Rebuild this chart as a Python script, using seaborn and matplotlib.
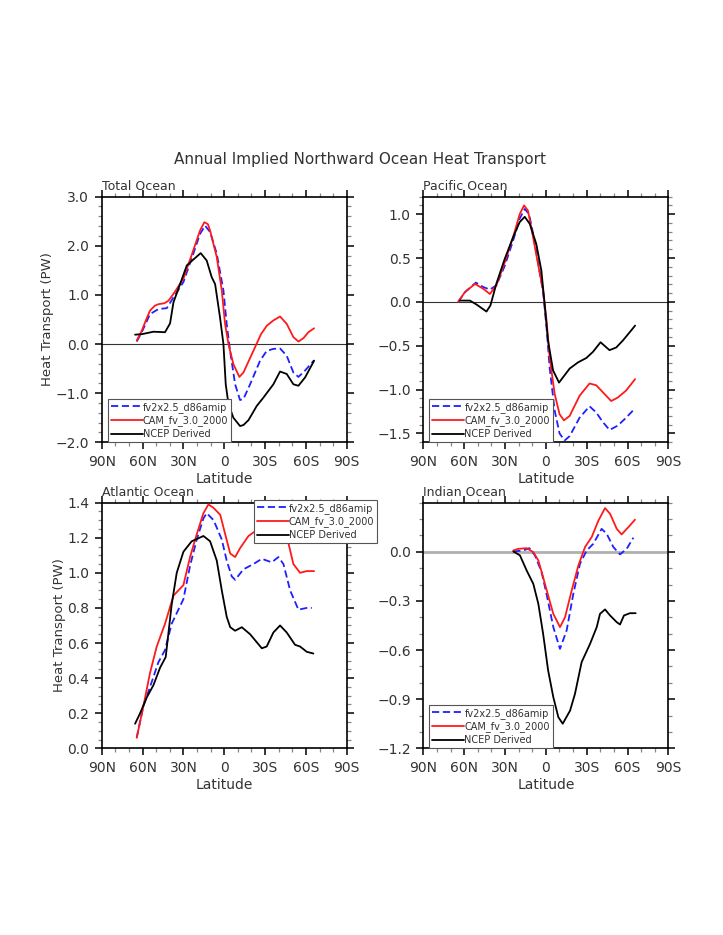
import numpy as np
import pandas as pd
import matplotlib
matplotlib.use("Agg")
import matplotlib.pyplot as plt
from matplotlib.lines import Line2D
from matplotlib.ticker import FixedLocator, MultipleLocator
import seaborn as sns

# ===================================================
# DATA
# ===================================================
CASES = ["fv2x2.5_d86amip", "CAM_fv_3.0_2000", "NCEP Derived"]

# -----> Total Ocean
TOT_LAT_FV = [64.3, 60.6, 54.5, 48.4, 42.2, 37.3, 30.0, 22.7, 17.8, 14.1, 10.4, 5.5, 0.6, -1.8, -4.3,
              -8.0, -11.6, -14.1, -19.0, -26.3, -31.2, -36.0, -41.0, -45.9, -50.8, -54.5, -59.4, -66.0]
TOT_FV = [0.05, 0.24, 0.61, 0.71, 0.73, 0.95, 1.26, 1.84, 2.24, 2.41, 2.28, 1.84, 1.09, 0.41, -0.14,
          -0.82, -1.14, -1.12, -0.82, -0.34, -0.14, -0.10, -0.09, -0.24, -0.58, -0.67, -0.54, -0.33]
TOT_LAT_CAM = [64.3, 60.6, 57.0, 54.5, 51.0, 48.4, 44.0, 41.0, 37.3, 30.0, 22.7, 17.8, 14.6, 12.0, 10.4,
               5.5, 1.8, -0.6, -3.1, -6.7, -11.1, -14.1, -21.4, -27.0, -31.2, -36.1, -41.0, -45.9,
               -50.8, -54.5, -58.2, -61.8, -66.0]
TOT_CAM = [0.07, 0.27, 0.52, 0.68, 0.78, 0.81, 0.83, 0.88, 1.02, 1.33, 1.91, 2.31, 2.48, 2.44, 2.31,
           1.77, 1.09, 0.41, 0.0, -0.41, -0.67, -0.58, -0.14, 0.20, 0.37, 0.48, 0.56, 0.41,
           0.14, 0.05, 0.12, 0.24, 0.32]
TOT_LAT_NCEP = [65.5, 60.6, 52.0, 43.5, 39.8, 37.3, 34.9, 27.5, 20.2, 17.3, 12.9, 9.2, 6.7, 3.1, 0.6,
                -1.1, -3.1, -6.7, -11.6, -14.1, -17.8, -23.9, -28.8, -36.1, -41.0, -45.9, -50.8,
                -54.5, -59.4, -66.0]
TOT_NCEP = [0.19, 0.20, 0.25, 0.24, 0.42, 0.85, 1.03, 1.60, 1.78, 1.85, 1.70, 1.36, 1.22, 0.54, 0.0,
            -0.82, -1.22, -1.50, -1.67, -1.65, -1.55, -1.26, -1.09, -0.82, -0.56, -0.61, -0.82,
            -0.85, -0.68, -0.34]

# -----> Pacific Ocean
PAC_LAT_FV = [64.4, 59.5, 51.4, 46.0, 41.1, 36.3, 30.2, 24.0, 19.2, 15.5, 12.3, 9.4, 5.7, 2.0, -0.5,
              -2.8, -6.5, -10.1, -13.8, -17.5, -24.8, -32.1, -37.0, -41.9, -46.8, -52.9, -59.0, -63.9]
PAC_FV = [0.0, 0.11, 0.22, 0.17, 0.14, 0.19, 0.41, 0.70, 0.95, 1.06, 1.00, 0.78, 0.45, 0.11, -0.29,
          -0.75, -1.24, -1.50, -1.58, -1.53, -1.32, -1.19, -1.26, -1.37, -1.46, -1.41, -1.32, -1.24]
PAC_LAT_CAM = [64.4, 59.5, 52.1, 46.0, 41.1, 36.3, 30.2, 24.0, 19.2, 16.0, 13.1, 9.4, 5.7, 2.0, -0.5,
               -2.8, -6.5, -10.1, -13.3, -17.5, -24.8, -32.1, -37.0, -41.9, -48.0, -52.9, -59.0, -65.6]
PAC_CAM = [0.0, 0.11, 0.205, 0.15, 0.09, 0.19, 0.45, 0.74, 1.0, 1.10, 1.04, 0.74, 0.43, 0.13, -0.21,
           -0.63, -1.05, -1.28, -1.35, -1.30, -1.07, -0.93, -0.95, -1.03, -1.13, -1.09, -1.01, -0.88]
PAC_LAT_NCEP = [63.1, 55.8, 50.9, 43.6, 40.7, 36.3, 30.2, 24.0, 19.2, 15.5, 11.8, 7.0, 3.3, 0.9, -1.6,
                -5.3, -9.7, -12.6, -17.5, -23.6, -29.7, -34.6, -40.2, -43.1, -46.8, -51.7, -56.6,
                -61.4, -65.6]
PAC_NCEP = [0.015, 0.015, -0.03, -0.11, -0.04, 0.21, 0.49, 0.74, 0.91, 0.97, 0.89, 0.66, 0.36, -0.02,
            -0.44, -0.78, -0.92, -0.86, -0.76, -0.69, -0.64, -0.57, -0.46, -0.50, -0.55, -0.52, -0.44,
            -0.35, -0.27]

# -----> Atlantic Ocean
ATL_LAT_FV = [64.3, 59.4, 54.5, 48.4, 43.5, 38.6, 30.0, 25.1, 20.2, 15.3, 12.9, 7.8, 1.8, -1.8, -5.5,
              -8.0, -14.1, -21.4, -27.6, -34.9, -39.8, -43.5, -48.4, -54.5, -60.6, -64.3]
ATL_FV = [0.06, 0.24, 0.35, 0.49, 0.56, 0.71, 0.85, 1.04, 1.19, 1.31, 1.34, 1.30, 1.19, 1.07, 0.98,
          0.96, 1.02, 1.05, 1.08, 1.06, 1.09, 1.05, 0.90, 0.79, 0.80, 0.80]
ATL_LAT_CAM = [64.3, 59.4, 54.5, 49.6, 43.5, 37.3, 30.0, 25.1, 20.2, 15.3, 11.6, 7.8, 2.9, -0.7, -4.4,
               -8.0, -11.6, -17.8, -25.1, -31.2, -34.9, -39.1, -42.2, -45.9, -50.8, -55.7, -60.6, -66.0]
ATL_CAM = [0.06, 0.24, 0.43, 0.58, 0.71, 0.87, 0.93, 1.09, 1.22, 1.34, 1.39, 1.37, 1.33, 1.22, 1.11,
           1.09, 1.14, 1.21, 1.25, 1.26, 1.26, 1.31, 1.31, 1.21, 1.05, 1.00, 1.01, 1.01]
ATL_LAT_NCEP = [65.5, 61.8, 56.9, 52.0, 47.1, 43.0, 38.6, 34.9, 30.0, 23.9, 15.3, 10.4, 5.5, 1.8, -1.8,
                -4.4, -8.0, -12.9, -19.0, -27.6, -31.2, -36.1, -41.0, -45.9, -52.0, -55.7, -60.6, -65.5]
ATL_NCEP = [0.14, 0.20, 0.29, 0.36, 0.46, 0.52, 0.82, 1.00, 1.12, 1.18, 1.21, 1.18, 1.07, 0.90, 0.75,
            0.69, 0.67, 0.69, 0.65, 0.57, 0.58, 0.66, 0.70, 0.66, 0.59, 0.58, 0.55, 0.54]

# -----> Indian Ocean
IND_LAT_FV = [23.9, 16.5, 12.1, 8.0, 3.1, -0.5, -5.5, -10.4, -15.3, -20.2, -25.1, -30.0, -34.9, -41.0,
              -44.7, -49.6, -54.5, -59.4, -64.3]
IND_FV = [0.002, 0.008, 0.022, -0.022, -0.124, -0.257, -0.46, -0.593, -0.48, -0.257, -0.073, 0.008,
          0.049, 0.14, 0.11, 0.029, -0.016, 0.018, 0.086]
IND_LAT_CAM = [23.9, 20.2, 14.1, 9.2, 5.5, 2.0, -1.7, -5.5, -10.4, -14.1, -19.0, -23.9, -28.8, -33.7,
               -38.6, -43.5, -47.2, -52.1, -55.7, -60.6, -65.5]
IND_CAM = [0.008, 0.018, 0.022, -0.002, -0.053, -0.155, -0.267, -0.379, -0.46, -0.40, -0.236, -0.084,
           0.029, 0.09, 0.19, 0.267, 0.232, 0.14, 0.106, 0.15, 0.196]
IND_LAT_NCEP = [23.9, 19.0, 14.1, 9.2, 5.5, 2.0, -1.7, -5.5, -9.2, -12.4, -17.8, -21.4, -26.3, -32.5,
                -37.4, -39.8, -43.5, -47.2, -52.1, -54.5, -57.4, -61.8, -66.0]
IND_NCEP = [0.002, -0.022, -0.114, -0.196, -0.318, -0.50, -0.725, -0.888, -1.01, -1.05, -0.97, -0.868,
            -0.674, -0.562, -0.46, -0.379, -0.352, -0.389, -0.43, -0.444, -0.389, -0.375, -0.375]

X_TICKS = [90, 60, 30, 0, -30, -60, -90]
X_TICKLABELS = ["90N", "60N", "30N", "0", "30S", "60S", "90S"]

# ===================================================
# STYLE
# ===================================================
sns.set_style("ticks")
plt.rcParams["font.family"] = ["DejaVu Sans"]
TXT = "#333333"
COLORS = {"fv2x2.5_d86amip": "#1f1fff", "CAM_fv_3.0_2000": "#ff1a1a", "NCEP Derived": "#000000"}
STYLES = {"fv2x2.5_d86amip": (0, (4, 2)), "CAM_fv_3.0_2000": "-", "NCEP Derived": "-"}
LW = 1.3


def long_frame(series):
    rows = []
    for case, (lat, val) in zip(CASES, series):
        rows.append(pd.DataFrame({"lat": lat, "pw": val, "case": case}))
    return pd.concat(rows, ignore_index=True)


def draw_panel(ax, name, series, ylim, yticks, ylabels, yminor, legend_anchor, zero=None, ylab=False):
    df = long_frame(series)
    if zero == "thin":
        ax.axhline(0, color="#333333", lw=0.8, zorder=1)
    elif zero == "gray":
        ax.axhline(0, color="#b0b0b0", lw=2.0, zorder=1)
    for case in CASES:
        sub = df[df["case"] == case]
        sns.lineplot(data=sub, x="lat", y="pw", ax=ax, color=COLORS[case], lw=LW,
                     linestyle=STYLES[case], sort=False, estimator=None, legend=False, zorder=3)
    ax.set_xlim(90, -90)
    ax.set_ylim(*ylim)
    ax.xaxis.set_major_locator(FixedLocator(X_TICKS))
    ax.set_xticklabels(X_TICKLABELS)
    ax.xaxis.set_minor_locator(MultipleLocator(10))
    ax.yaxis.set_major_locator(FixedLocator(yticks))
    ax.set_yticklabels(ylabels)
    ax.yaxis.set_minor_locator(MultipleLocator(yminor))
    ax.tick_params(which="both", direction="out", top=True, right=True,
                   labelsize=10, labelcolor=TXT, pad=4)
    ax.tick_params(which="major", length=5, width=1.1, color="black")
    ax.tick_params(which="minor", length=3, width=0.9, color="#888888")
    for sp in ax.spines.values():
        sp.set_linewidth(1.2)
        sp.set_color("black")
        sp.set_visible(True)
    ax.set_xlabel("Latitude", fontsize=10, color=TXT, labelpad=2)
    ax.set_ylabel("Heat Transport (PW)" if ylab else "", fontsize=9.5, color=TXT, labelpad=1)
    ax.set_title(name, loc="left", fontsize=9, color=TXT, pad=5)

    handles = [Line2D([], [], color=COLORS[c], lw=LW, linestyle=STYLES[c]) for c in CASES]
    leg = ax.legend(handles, CASES, loc="lower left", bbox_to_anchor=legend_anchor,
                    bbox_transform=ax.transAxes, fontsize=7, frameon=True, fancybox=False,
                    handlelength=3.3, handletextpad=0.0, labelspacing=0.3, borderpad=0.3,
                    borderaxespad=0, framealpha=1)
    leg.get_frame().set_edgecolor("#555555")
    leg.get_frame().set_linewidth(0.8)
    leg.set_zorder(5)
    for t in leg.get_texts():
        t.set_color(TXT)


# ===================================================
# FIGURE
# ===================================================
fig = plt.figure(figsize=(7.23, 9.35), dpi=100)
W, H = 0.3389, 0.2627
ax_tot = fig.add_axes([0.1407, 0.5270, W, H])
ax_pac = fig.add_axes([0.5855, 0.5270, W, H])
ax_atl = fig.add_axes([0.1407, 0.1997, W, H])
ax_ind = fig.add_axes([0.5855, 0.1997, W, H])

draw_panel(ax_tot, "Total Ocean",
           [(TOT_LAT_FV, TOT_FV), (TOT_LAT_CAM, TOT_CAM), (TOT_LAT_NCEP, TOT_NCEP)],
           (-2.0, 3.0), [-2, -1, 0, 1, 2, 3],
           ["\u22122.0", "\u22121.0", "0.0", "1.0", "2.0", "3.0"], 0.2,
           (0.025, 0.0), zero="thin", ylab=True)
draw_panel(ax_pac, "Pacific Ocean",
           [(PAC_LAT_FV, PAC_FV), (PAC_LAT_CAM, PAC_CAM), (PAC_LAT_NCEP, PAC_NCEP)],
           (-1.6, 1.2), [-1.5, -1.0, -0.5, 0.0, 0.5, 1.0],
           ["\u22121.5", "\u22121.0", "\u22120.5", "0.0", "0.5", "1.0"], 0.1,
           (0.025, 0.0), zero="thin")
draw_panel(ax_atl, "Atlantic Ocean",
           [(ATL_LAT_FV, ATL_FV), (ATL_LAT_CAM, ATL_CAM), (ATL_LAT_NCEP, ATL_NCEP)],
           (0.0, 1.4), [0.0, 0.2, 0.4, 0.6, 0.8, 1.0, 1.2, 1.4],
           ["0.0", "0.2", "0.4", "0.6", "0.8", "1.0", "1.2", "1.4"], 0.05,
           (0.62, 0.835), ylab=True)
draw_panel(ax_ind, "Indian Ocean",
           [(IND_LAT_FV, IND_FV), (IND_LAT_CAM, IND_CAM), (IND_LAT_NCEP, IND_NCEP)],
           (-1.2, 0.3), [-1.2, -0.9, -0.6, -0.3, 0.0],
           ["\u22121.2", "\u22120.9", "\u22120.6", "\u22120.3", "0.0"], 0.1,
           (0.025, 0.0), zero="gray")

fig.text(0.498, 0.829, "Annual Implied Northward Ocean Heat Transport",
         ha="center", va="center", fontsize=11, color=TXT)

fig.savefig("out.png", dpi=100)
